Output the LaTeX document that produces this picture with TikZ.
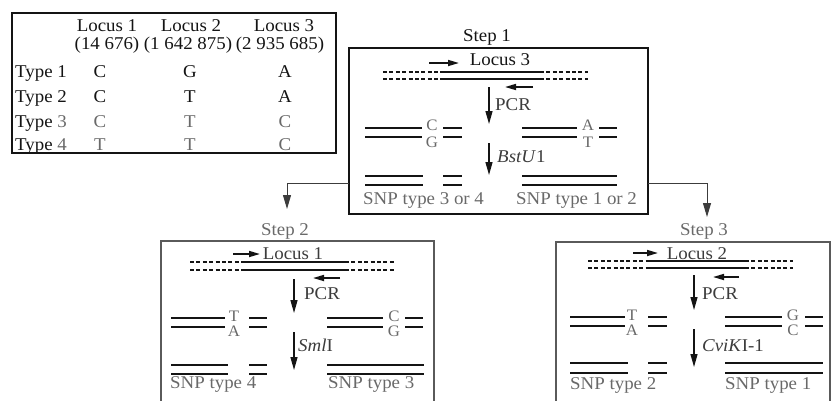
\documentclass[tikz,border=0pt]{standalone}
\usepackage{fontspec}
\setmainfont{Liberation Serif}[FakeStretch=1.05]
\usetikzlibrary{arrows.meta}
\definecolor{ink}{RGB}{20,20,20}
\definecolor{mid}{RGB}{60,60,60}
\definecolor{soft}{RGB}{105,105,105}
\definecolor{frame}{RGB}{90,90,90}

\tikzset{
  lbl/.style={anchor=base, inner sep=0pt, text=ink},
  lblw/.style={anchor=base west, inner sep=0pt, text=ink},
  base/.style={anchor=base, inner sep=0pt, text=soft, font=\fontsize{16}{18}\selectfont},
  panel/.style={draw=ink, line width=1.2pt, anchor=north west, inner sep=0pt, outer sep=0pt},
  dashstrand/.style={draw=ink, line width=1.1pt, dash pattern=on 4pt off 2.4pt},
  corestrand/.style={draw=ink, line width=2.2pt},
  duplex/.style={draw=ink, line width=2pt},
  primer/.style={draw=ink, line width=1.6pt, -{Triangle[length=11pt,width=6pt]}},
  flow/.style={draw=ink, line width=1.3pt, -{Triangle[length=13pt,width=7pt]}},
  conn/.style={draw=mid, line width=1pt, -{Triangle[length=14pt,width=8pt]}},
}

\begin{document}
\begin{tikzpicture}[x=1pt, y=-1pt, every node/.style={font=\fontsize{18}{21}\selectfont}]
\useasboundingbox (0,0) rectangle (832,400);

% ---------- genotype table ----------
\node[panel, minimum width=324pt, minimum height=140pt] (tbl) at (12,13) {};
\node[lbl] (h1) at (107,31) {Locus 1};
\node[lbl] (h1n) at (107,49) {(14 676)};
\node[lbl] (h2) at (191,31) {Locus 2};
\node[lbl] (h2n) at (188,49) {(1 642 875)};
\node[lbl] (h3) at (284,31) {Locus 3};
\node[lbl] (h3n) at (280,49) {(2 935 685)};

\node[lblw] (t1) at (15,77) {Type 1};
\node[lbl] (t1a) at (100,77) {C};
\node[lbl] (t1b) at (190,77) {G};
\node[lbl] (t1c) at (285,77) {A};

\node[lblw] (t2) at (15,102) {Type 2};
\node[lbl] (t2a) at (100,102) {C};
\node[lbl] (t2b) at (190,102) {T};
\node[lbl] (t2c) at (285,102) {A};

\node[lblw] (t3) at (15,127) {Type \textcolor{soft}{3}};
\node[lbl, text=soft] (t3a) at (100,127) {C};
\node[lbl, text=soft] (t3b) at (190,127) {T};
\node[lbl, text=soft] (t3c) at (285,127) {C};

\node[lblw] (t4) at (15,150) {Type \textcolor{soft}{4}};
\node[lbl, text=soft] (t4a) at (100,150) {T};
\node[lbl, text=soft] (t4b) at (190,150) {T};
\node[lbl, text=soft] (t4c) at (285,150) {C};

% ---------- step 1: locus 3, BstUI ----------
\node[panel, minimum width=299pt, minimum height=166pt] (s1) at (349,48) {};
\node[lbl] (s1lab) at (487,41) {Step 1};
\node[lbl] (s1loc) at (500,65) {Locus 3};
\draw[dashstrand] (383,72) -- (440,72) (540,72) -- (588,72)
                  (383,79) -- (440,79) (540,79) -- (588,79);
\draw[corestrand] (440,72) -- (540,72) (440,79) -- (540,79);
\draw[primer] (429,63) -- (459,63);
\draw[primer] (533,87) -- (505,87);
\draw[flow] (489,87) -- (489,124);
\node[lblw, text=mid] (s1pcr) at (495,110) {PCR};
\draw[duplex] (365,128) -- (422,128) (365,137) -- (422,137)
              (443,128) -- (462,128) (443,137) -- (462,137);
\node[base] at (432,130) {C};
\node[base] at (432,147) {G};
\draw[duplex] (522,128) -- (577,128) (522,137) -- (577,137)
              (599,128) -- (617,128) (599,137) -- (617,137);
\node[base] at (588,130) {A};
\node[base] at (588,147) {T};
\draw[flow] (489,143) -- (489,175);
\node[lblw, text=mid] (s1enz) at (497,162) {\textit{BstU}1};
\draw[duplex] (365,176) -- (423,176) (365,185) -- (423,185)
              (443,176) -- (462,176) (443,185) -- (462,185)
              (522,176) -- (617,176) (522,185) -- (617,185);
\node[lblw, text=soft] (s1a) at (363,204) {SNP type 3 or 4};
\node[lblw, text=soft] (s1b) at (516,204) {SNP type 1 or 2};

% ---------- step 2: locus 1, SmlI ----------
\node[panel, draw=frame, minimum width=273pt, minimum height=170pt] (s2) at (161,241) {};
\node[lbl, text=soft] (s2lab) at (285,235) {Step 2};
\node[lbl, text=mid] (s2loc) at (293,259) {Locus 1};
\draw[dashstrand] (190,262) -- (245,262) (345,262) -- (395,262)
                  (190,270) -- (245,270) (345,270) -- (395,270);
\draw[corestrand] (245,262) -- (345,262) (245,270) -- (345,270);
\draw[primer] (233,254) -- (260,254);
\draw[primer] (340,278) -- (313,278);
\draw[flow] (294,279) -- (294,313);
\node[lblw, text=mid] (s2pcr) at (304,299) {PCR};
\draw[duplex] (171,318) -- (225,318) (171,327) -- (225,327)
              (249,318) -- (267,318) (249,327) -- (267,327);
\node[base] at (234,321) {T};
\node[base] at (234,336) {A};
\draw[duplex] (327,318) -- (383,318) (327,327) -- (383,327)
              (405,318) -- (423,318) (405,327) -- (423,327);
\node[base] at (394,321) {C};
\node[base] at (394,336) {G};
\draw[flow] (294,332) -- (294,370);
\node[lblw, text=mid] (s2enz) at (298,351) {\textit{Sml}I};
\draw[duplex] (171,365) -- (228,365) (171,374) -- (228,374)
              (249,365) -- (267,365) (249,374) -- (267,374)
              (327,365) -- (424,365) (327,374) -- (424,374);
\node[lblw, text=soft] (s2a) at (170,388) {SNP type 4};
\node[lblw, text=soft] (s2b) at (328,388) {SNP type 3};

% ---------- step 3: locus 2, CviKI-1 ----------
\node[panel, draw=frame, minimum width=274pt, minimum height=170pt] (s3) at (556,242) {};
\node[lbl, text=soft] (s3lab) at (704,235) {Step 3};
\node[lbl, text=mid] (s3loc) at (697,259) {Locus 2};
\draw[dashstrand] (588,261) -- (647,261) (745,261) -- (793,261)
                  (588,268) -- (647,268) (745,268) -- (793,268);
\draw[corestrand] (647,261) -- (745,261) (647,268) -- (745,268);
\draw[primer] (633,253) -- (658,253);
\draw[primer] (739,277) -- (713,277);
\draw[flow] (694,275) -- (694,310);
\node[lblw, text=mid] (s3pcr) at (702,299) {PCR};
\draw[duplex] (570,317) -- (625,317) (570,326) -- (625,326)
              (648,317) -- (667,317) (648,326) -- (667,326);
\node[base] at (632,320) {T};
\node[base] at (632,335) {A};
\draw[duplex] (725,317) -- (782,317) (725,326) -- (782,326)
              (805,317) -- (823,317) (805,326) -- (823,326);
\node[base] at (793,320) {G};
\node[base] at (793,335) {C};
\draw[flow] (694,329) -- (694,367);
\node[lblw, text=mid] (s3enz) at (702,351) {\textit{CviK}I-1};
\draw[duplex] (570,363) -- (628,363) (570,373) -- (628,373)
              (648,363) -- (667,363) (648,373) -- (667,373)
              (725,363) -- (823,363) (725,373) -- (823,373);
\node[lblw, text=soft] (s3a) at (570,389) {SNP type 2};
\node[lblw, text=soft] (s3b) at (725,389) {SNP type 1};

% ---------- branching connectors ----------
\coordinate (tip2) at (287,209);
\coordinate (tip3) at (707,217);
\draw[conn] ([yshift=31pt]s1.south west) -| (tip2);
\draw[conn] ([yshift=31pt]s1.south east) -| (tip3);
\end{tikzpicture}
\end{document}
